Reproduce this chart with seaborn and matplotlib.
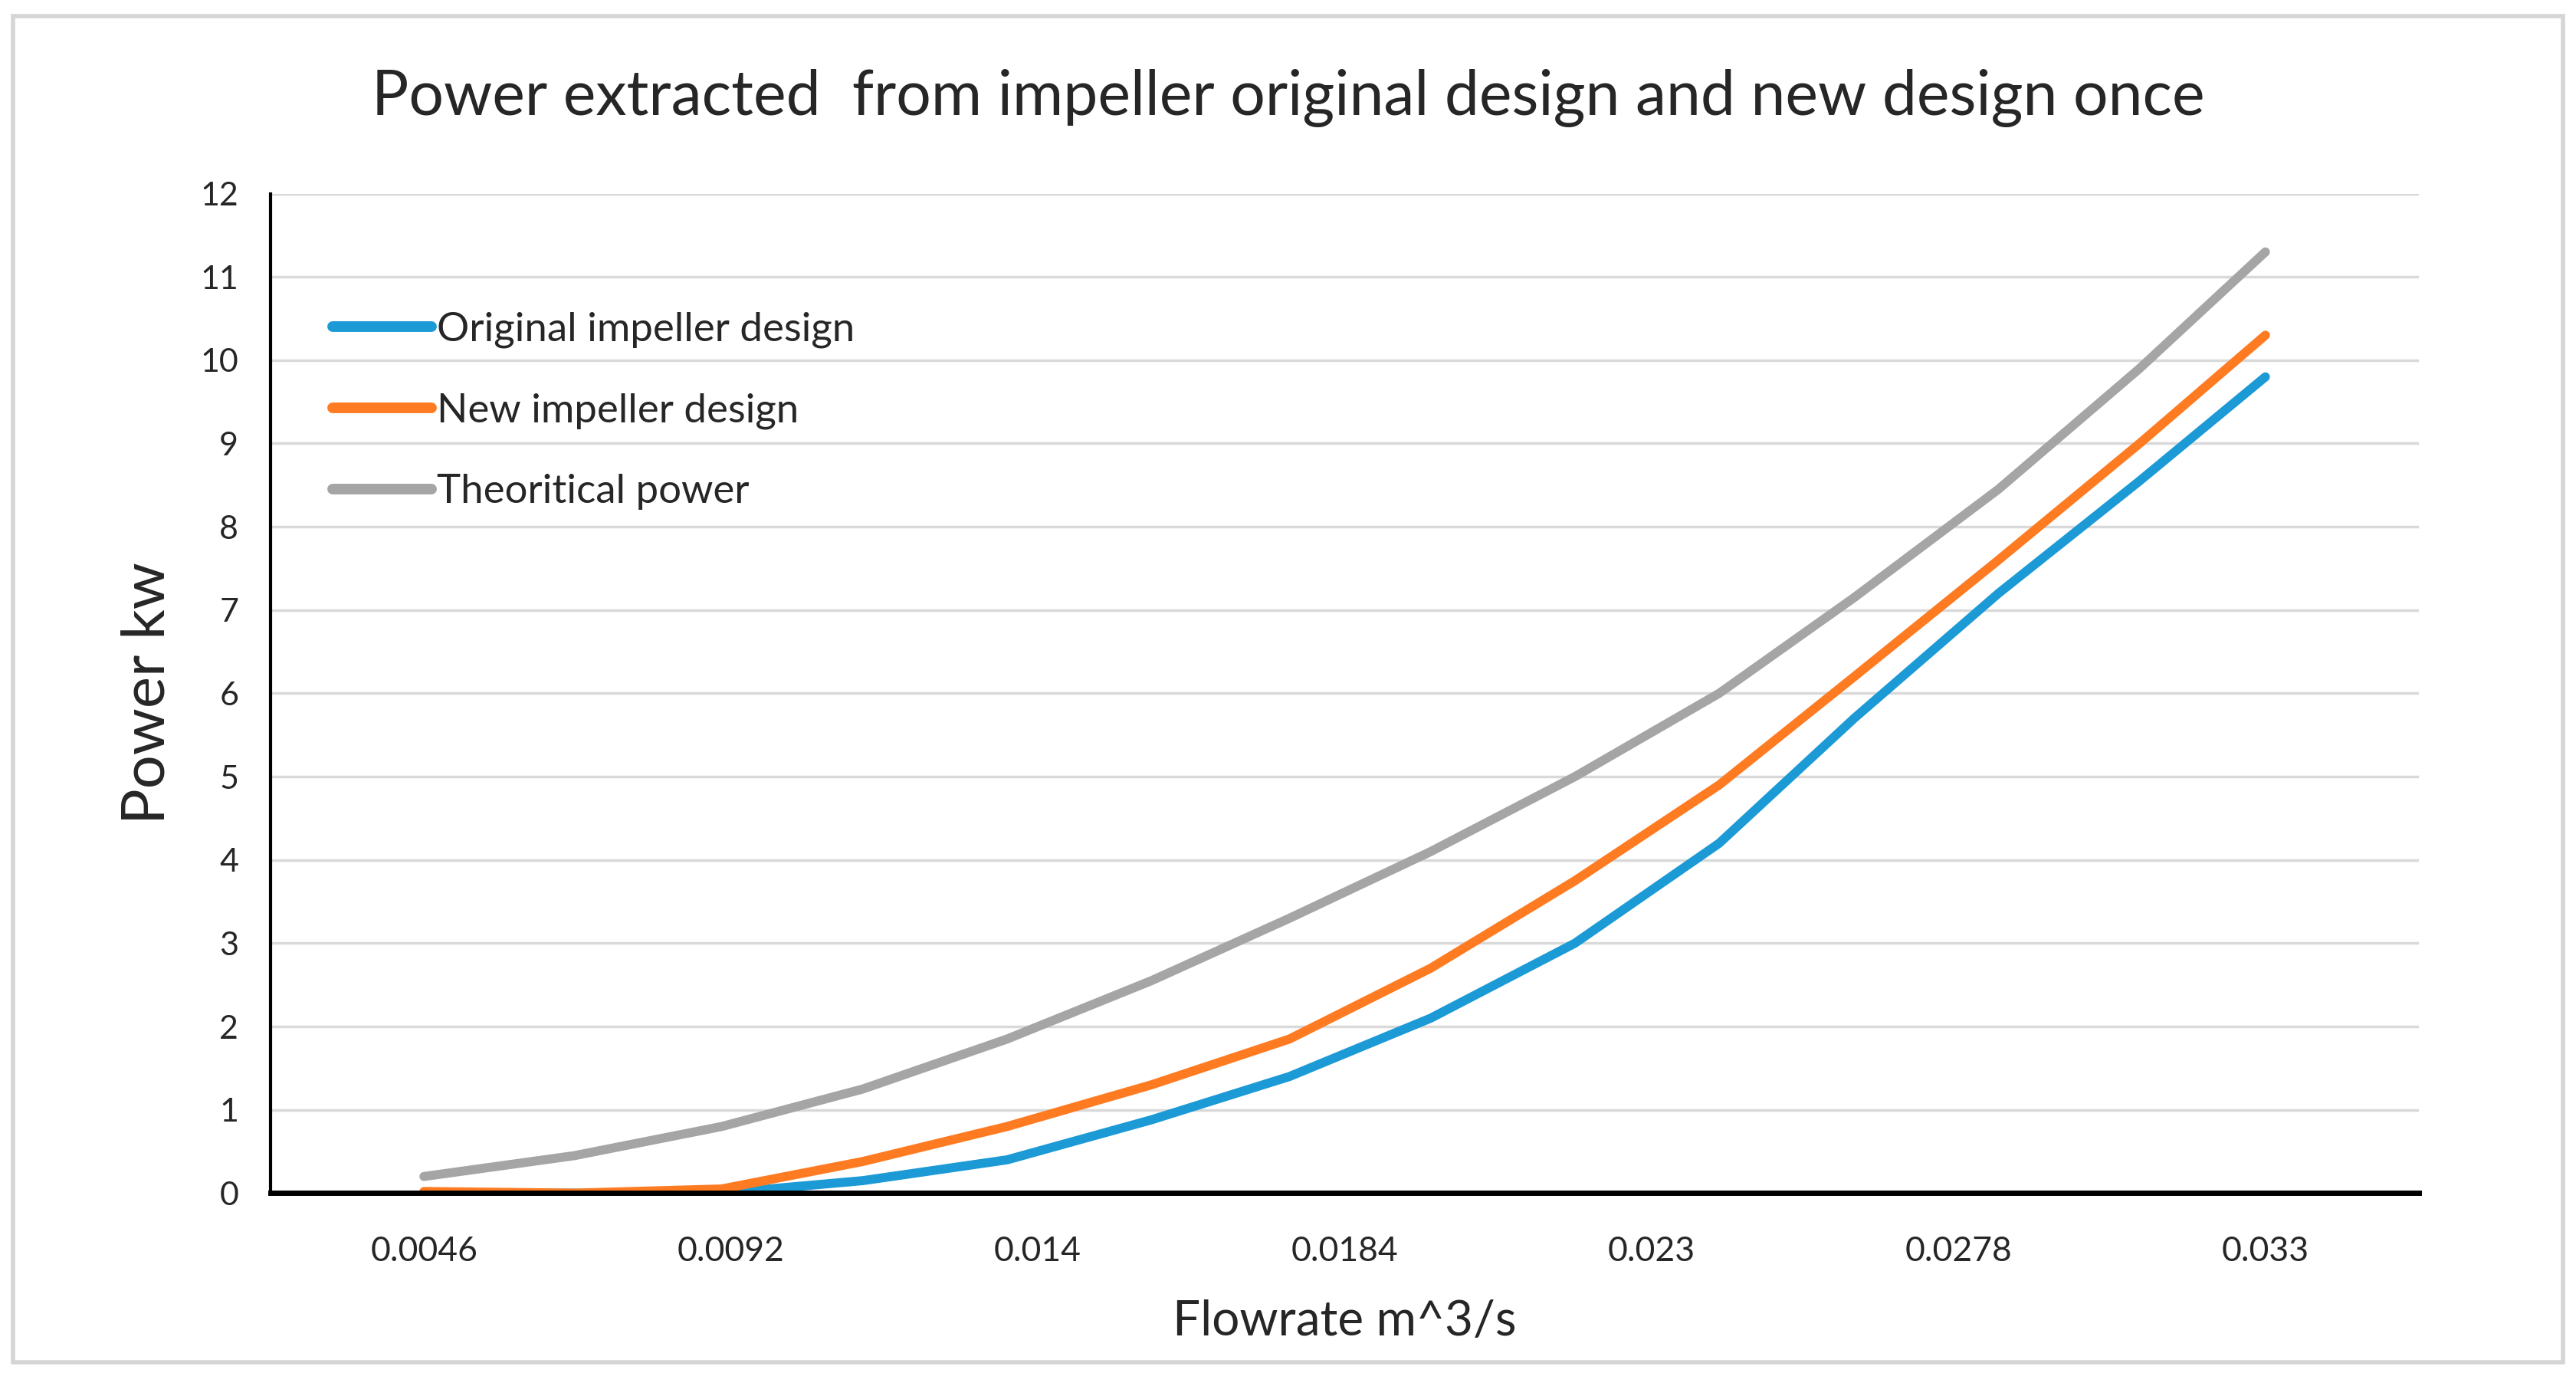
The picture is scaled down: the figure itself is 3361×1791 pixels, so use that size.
import numpy as np
import pandas as pd
import matplotlib
matplotlib.use("Agg")
import matplotlib.pyplot as plt
import seaborn as sns
from matplotlib.patches import Rectangle
from matplotlib.ticker import FixedLocator, NullFormatter

# category labels on the x axis
flow_labels = ["0.0046", "0.0092", "0.014", "0.0184", "0.023", "0.0278", "0.033"]

# positions along the category axis where the curves were read (0 = first category)
x_pos = [0.0, 0.49, 0.97, 1.43, 1.90, 2.37, 2.82, 3.28, 3.75, 4.22, 4.66, 5.13, 5.59, 6.0]

# power (kW)
original = [0.0, 0.0, 0.0, 0.15, 0.4, 0.88, 1.4, 2.1, 3.0, 4.2, 5.7, 7.2, 8.55, 9.8]
new_design = [0.02, 0.0, 0.05, 0.38, 0.8, 1.3, 1.85, 2.7, 3.75, 4.9, 6.2, 7.6, 9.0, 10.3]
theoretical = [0.2, 0.45, 0.8, 1.25, 1.85, 2.55, 3.3, 4.1, 5.0, 6.0, 7.15, 8.45, 9.9, 11.3]

series_names = ["Original impeller design", "New impeller design", "Theoritical power"]
colors = ["#1b9ad6", "#fe7b22", "#a5a5a5"]

df = pd.concat([
    pd.DataFrame({"x": x_pos, "power": vals, "series": name})
    for name, vals in zip(series_names, [original, new_design, theoretical])
], ignore_index=True)

sns.set_style("white")
plt.rcParams["font.family"] = ["Lato", "DejaVu Sans"]

fig = plt.figure(figsize=(33.61, 17.91), dpi=100)
ax = fig.add_axes([0.105, 0.131, 0.834, 0.728])

sns.lineplot(data=df, x="x", y="power", hue="series", hue_order=series_names,
             palette=dict(zip(series_names, colors)), estimator=None, sort=False,
             linewidth=8.5, ax=ax, legend=True)
for line in ax.lines:
    line.set_solid_capstyle("round")
    line.set_solid_joinstyle("round")

ax.set_xlim(-0.5, 6.5)
ax.set_ylim(0, 12)
ax.set_yticks(range(0, 13))
ax.yaxis.grid(True, color="#d9d9d9", linewidth=2.5)
ax.set_axisbelow(True)

# tick marks between categories, labels centred on categories
ax.xaxis.set_major_locator(FixedLocator(np.arange(-0.5, 7.0, 1.0)))
ax.xaxis.set_major_formatter(NullFormatter())
ax.xaxis.set_minor_locator(FixedLocator(np.arange(len(flow_labels))))
ax.set_xticklabels(flow_labels, minor=True)
ax.tick_params(axis="x", which="major", length=20, width=3, color="black", direction="out")
ax.tick_params(axis="x", which="minor", length=0, labelsize=32, pad=40)
ax.tick_params(axis="y", length=16, width=3, color="black", direction="out",
               labelsize=31, pad=14)

for side in ["top", "right"]:
    ax.spines[side].set_visible(False)
ax.spines["left"].set_color("black")
ax.spines["left"].set_linewidth(3)
ax.spines["bottom"].set_color("black")
ax.spines["bottom"].set_linewidth(5)

ax.set_xlabel("Flowrate m^3/s", fontsize=46, labelpad=30)
ax.set_ylabel("Power kw", fontsize=56, labelpad=24)
fig.suptitle("Power extracted  from impeller original design and new design once",
             fontsize=58, x=0.5, y=0.95)

leg = ax.legend(loc="upper left", bbox_to_anchor=(0.012, 0.918), frameon=False,
                fontsize=38, handlelength=2.45, handletextpad=0.12, labelspacing=1.1)
for h in leg.get_lines():
    h.set_linewidth(10)
    h.set_solid_capstyle("round")

# chart area frame
fig.patches.append(Rectangle((0.005, 0.008), 0.99, 0.98, transform=fig.transFigure,
                             fill=False, edgecolor="#d5d5d5", linewidth=4))

fig.savefig("out.png", dpi=100)
